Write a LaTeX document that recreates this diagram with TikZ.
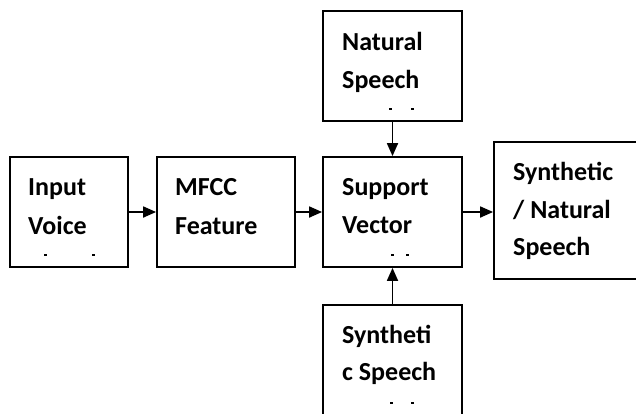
\documentclass[tikz,border=0pt]{standalone}
\usepackage{fontspec}
\setmainfont{Carlito}
\usetikzlibrary{arrows.meta}
\tikzset{
  box/.style={draw=black, line width=1.8pt, rectangle, inner sep=0pt, fill=none},
  lbl/.style={anchor=base west, inner sep=0pt, font=\fontsize{26}{30}\selectfont\bfseries},
  conn/.style={line width=1.8pt, -{Triangle[length=13pt,width=11pt]}},
  tick/.style={fill=black}
}
\begin{document}
\begin{tikzpicture}[x=1pt,y=-1pt]
\useasboundingbox (0,0) rectangle (636,413);
% boxes
\node[box, minimum width=118pt, minimum height=110pt] (in)   at (69,212) {};
\node[box, minimum width=138pt, minimum height=110pt] (mfcc) at (226,212) {};
\node[box, minimum width=139pt, minimum height=110pt] (sv)   at (392.5,212) {};
\node[box, minimum width=139pt, minimum height=110pt] (nat)  at (392.5,66) {};
\node[box, minimum width=139pt, minimum height=130pt] (syn)  at (392.5,370) {};
\node[box, minimum width=160pt, minimum height=137pt] (out)  at (574,210.5) {};
% labels
\node[lbl] (t1a) at (28,195) {Input};
\node[lbl] (t1b) at (28,234) {Voice};
\node[lbl] (t2a) at (175,195) {MFCC};
\node[lbl] (t2b) at (175,234) {Feature};
\node[lbl] (t3a) at (342,195) {Support};
\node[lbl] (t3b) at (342,233) {Vector};
\node[lbl] (t4a) at (342,50) {Natural};
\node[lbl] (t4b) at (342,88) {Speech};
\node[lbl] (t5a) at (342,343) {Syntheti};
\node[lbl] (t5b) at (342,380) {c Speech};
\node[lbl] (t6a) at (513,180) {Synthetic};
\node[lbl] (t6b) at (513,218) {/ Natural};
\node[lbl] (t6c) at (513,255) {Speech};
% small marks
\foreach \x/\y in {45/255, 93/255, 390/109, 412/109, 392/255, 407/255, 391/403, 412/403}
  \fill[tick] (\x-1.5,\y-1) rectangle (\x+1.5,\y+1);
% connectors
\draw[conn] (in.east) -- (mfcc.west);
\draw[conn] (mfcc.east) -- (sv.west);
\draw[conn] (sv.east) -- (sv.east -| out.west);
\draw[conn] (nat.south) -- (sv.north);
\draw[conn] (syn.north) -- (sv.south);
\end{tikzpicture}
\end{document}
